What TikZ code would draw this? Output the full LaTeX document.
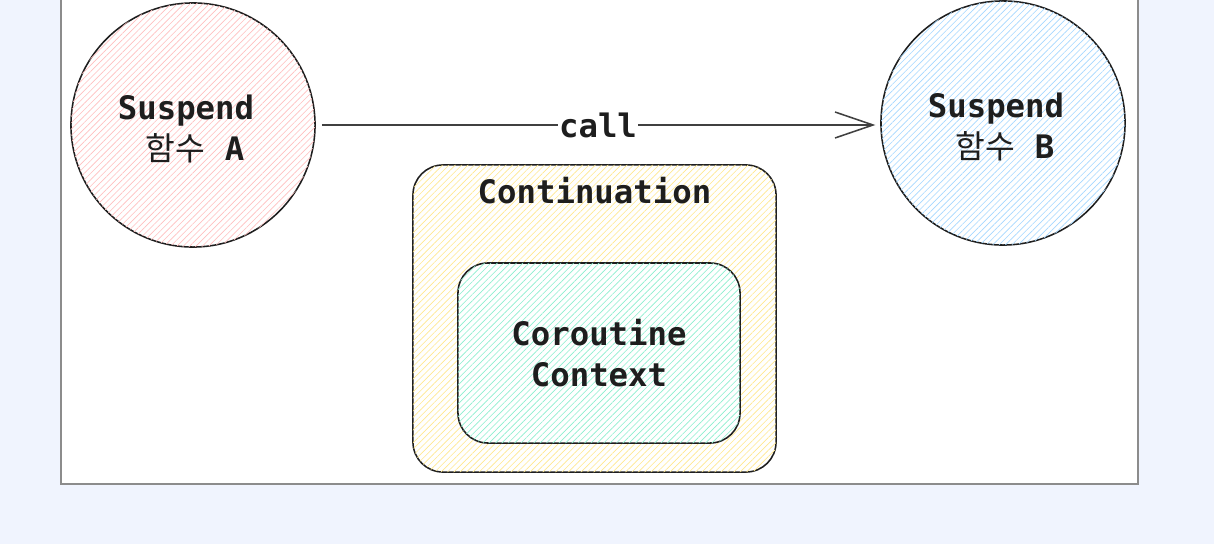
\documentclass[tikz,border=0pt]{standalone}
\usepackage{fontspec}
\setmonofont{DejaVu Sans Mono}
\newfontfamily\kofont{Noto Sans CJK KR}
\usetikzlibrary{arrows.meta,patterns.meta}

\definecolor{pagebg}{HTML}{F0F4FE}
\definecolor{ink}{HTML}{1E1E1E}
\definecolor{pinkhatch}{HTML}{FFBFBF}
\definecolor{bluehatch}{HTML}{A5D8FF}
\definecolor{yellowhatch}{HTML}{FFE88F}
\definecolor{tealhatch}{HTML}{8CEFCF}

\begin{document}
\begin{tikzpicture}[x=0.025cm, y=-0.025cm,
    txt/.style={font=\ttfamily\bfseries\fontsize{23}{29.5}\selectfont, text=ink, align=center},
    fn/.style={circle, draw=ink, line width=1.1pt, minimum size=6.1cm, fill=white,
      postaction={pattern={Lines[angle=45,distance=3.2pt,line width=0.45pt]}, pattern color=#1}},
    box/.style={draw=ink, line width=1.1pt, rounded corners=0.75cm, fill=white,
      postaction={pattern={Lines[angle=45,distance=3.2pt,line width=0.45pt]}, pattern color=#1}}]
  \useasboundingbox (0,0) rectangle (1214,544);
  \fill[pagebg] (0,0) rectangle (1214,544);
  \filldraw[fill=white, draw=black!45, line width=0.9pt] (61,-10) rectangle (1138,484);

  \node[fn=pinkhatch] (circA) at (193,125) {};
  \node[fn=bluehatch] (circB) at (1003,123) {};
  \node[txt] (txtA) at (186,129) {Suspend\\\hspace*{0.45cm}{\kofont\mdseries 함수} A};
  \node[txt] (txtB) at (996,127) {Suspend\\\hspace*{0.45cm}{\kofont\mdseries 함수} B};

  \node[box=yellowhatch, minimum width=9.075cm, minimum height=7.675cm] (cont) at (594.5,318.5) {};
  \node[box=tealhatch, minimum width=7.05cm, minimum height=4.5cm] (ctx) at (599,353) {};
  \node[txt, anchor=north] (contlbl) at (cont.north) [yshift=-0.2cm] {Continuation};
  \node[txt] (ctxlbl) at (ctx.center) {Coroutine\\Context};

  \draw[ink!85, line width=1.1pt, -{Straight Barb[length=0.95cm, width=0.65cm, line width=1.1pt]},
    shorten <=0.15cm, shorten >=0.12cm] (circA.east) -- (circA.east -| circB.west)
    node[midway, fill=white, inner sep=1pt, txt] (calllbl) {call};
\end{tikzpicture}
\end{document}
